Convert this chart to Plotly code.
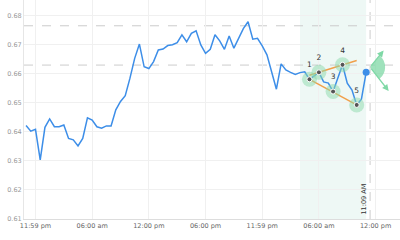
import numpy as np
import pandas as pd
import plotly.graph_objects as go

# ---------------- data ----------------
series_start = "2024-03-04 23:00"
price = [
    0.6421, 0.6402, 0.6408, 0.6303, 0.6415, 0.6444, 0.6417, 0.6417, 0.6423, 0.6377,
    0.6372, 0.6351, 0.6377, 0.6448, 0.6440, 0.6417, 0.6412, 0.6420, 0.6420, 0.6475,
    0.6504, 0.6524, 0.6584, 0.6652, 0.6701, 0.6623, 0.6617, 0.6641, 0.6681, 0.6684,
    0.6696, 0.6699, 0.6706, 0.6733, 0.6709, 0.6738, 0.6747, 0.6698, 0.6669, 0.6683,
    0.6733, 0.6712, 0.6683, 0.6729, 0.6687, 0.6718, 0.6754, 0.6778, 0.6718, 0.6721,
    0.6695, 0.6664, 0.6606, 0.6546, 0.6633, 0.6612, 0.6604, 0.6597, 0.6603, 0.6606,
    0.6580, 0.6591, 0.6604, 0.6571, 0.6567, 0.6538, 0.6585, 0.6630, 0.6567, 0.6543,
    0.6492, 0.6512, 0.6604,
]
times = pd.date_range(series_start, periods=len(price), freq="30min")

wave_labels = ["1", "2", "3", "4", "5"]
wave_times = ["2024-03-06 05:00", "2024-03-06 06:00", "2024-03-06 07:30",
              "2024-03-06 08:30", "2024-03-06 10:00"]
wave_values = [0.6580, 0.6604, 0.6538, 0.6630, 0.6492]

upper_times = ["2024-03-06 05:00", "2024-03-06 10:00"]
upper_values = [0.6594, 0.6645]
lower_times = ["2024-03-06 05:00", "2024-03-06 10:00"]
lower_values = [0.6580, 0.6492]

level_values = [0.6764, 0.6629]
window_times = ["2024-03-06 04:00", "2024-03-06 11:00"]
now_time = "2024-03-06 11:25"
now_label = "11:09 AM"
forecast_value = 0.6622

x_range = ["2024-03-04 22:47", "2024-03-06 14:35"]
x_tick_vals = ["2024-03-05 00:00", "2024-03-05 06:00", "2024-03-05 12:00",
               "2024-03-05 18:00", "2024-03-06 00:00", "2024-03-06 06:00",
               "2024-03-06 12:00"]
x_tick_text = ["11:59 pm", "06:00 am", "12:00 pm", "06:00 pm", "11:59 pm",
               "06:00 am", "12:00 pm"]
y_range = [0.61, 0.68526]
y_tick_vals = [0.61, 0.62, 0.63, 0.64, 0.65, 0.66, 0.67, 0.68]
y_tick_text = ["0.61", "0.62", "0.63", "0.64", "0.65", "0.66", "0.67", "0.68"]

# ---------------- style ----------------
FONT = "DejaVu Sans"
BLUE = "#3d8ee8"
ORANGE = "#f0a04b"
GREEN = "#7fd8a6"

fig = go.Figure()

# shaded window
fig.add_shape(type="rect", xref="x", yref="paper", x0=window_times[0], x1=window_times[1],
              y0=0, y1=1, fillcolor="#eef8f5", line=dict(width=0), layer="below")

# level lines
for lv in level_values:
    fig.add_shape(type="line", xref="paper", yref="y", x0=0, x1=1, y0=lv, y1=lv,
                  line=dict(color="#cccccc", width=1, dash="dash"), layer="below")
# now line
fig.add_shape(type="line", xref="x", yref="paper", x0=now_time, x1=now_time, y0=0, y1=1,
              line=dict(color="#cccccc", width=1, dash="dash"), layer="below")

# price line
fig.add_trace(go.Scatter(x=times, y=price, mode="lines",
                         line=dict(color=BLUE, width=1.5), hoverinfo="skip"))
# last point
fig.add_trace(go.Scatter(x=[times[-1]], y=[price[-1]], mode="markers",
                         marker=dict(color=BLUE, size=7), hoverinfo="skip"))

# pattern lines
fig.add_trace(go.Scatter(x=upper_times, y=upper_values, mode="lines",
                         line=dict(color=ORANGE, width=1.5), hoverinfo="skip"))
fig.add_trace(go.Scatter(x=lower_times, y=lower_values, mode="lines",
                         line=dict(color=ORANGE, width=1.5), hoverinfo="skip"))

# wave points
fig.add_trace(go.Scatter(x=wave_times, y=wave_values, mode="markers+text",
                         text=wave_labels, textposition="top center",
                         textfont=dict(family=FONT, size=7.5, color="#333333"),
                         marker=dict(color="rgba(140,218,172,0.5)", size=15),
                         hoverinfo="skip"))
fig.add_trace(go.Scatter(x=wave_times, y=wave_values, mode="markers",
                         marker=dict(color="#555555", size=5, line=dict(color="white", width=1)),
                         hoverinfo="skip"))

# forecast sector (pixel geometry anchored at forecast point)
ang = np.radians(np.linspace(50.6, -52.1, 24))
r = 15
pts = " ".join(f"L{r*np.cos(a):.2f},{r*np.sin(a):.2f}" for a in ang)
fig.add_shape(type="path", xref="x", yref="y", xsizemode="pixel", ysizemode="pixel",
              xanchor=now_time, yanchor=forecast_value,
              path=f"M0,0 {pts} Z", fillcolor="rgba(127,216,166,0.75)", line=dict(width=0))
for dx, dy in [(13.6, 16.7), (18.6, -24)]:
    fig.add_annotation(x=now_time, y=forecast_value, xref="x", yref="y", text="",
                       showarrow=True, arrowhead=2, arrowsize=1, arrowwidth=1.3,
                       arrowcolor=GREEN, xshift=dx, yshift=dy, ax=-dx, ay=dy,
                       standoff=0, startstandoff=0)

fig.add_annotation(x=now_time, y=y_range[0], xref="x", yref="y", text=now_label,
                   showarrow=False, textangle=-90, xanchor="center", yanchor="bottom",
                   xshift=-7, yshift=2, font=dict(family=FONT, size=6.5, color="#333333"))

fig.update_layout(
    width=400, height=240, margin=dict(l=24, r=0, t=0, b=21),
    paper_bgcolor="white", plot_bgcolor="white", showlegend=False,
    font=dict(family=FONT, size=6.5, color="#666666"),
)
fig.update_xaxes(range=x_range, type="date", tickvals=x_tick_vals, ticktext=x_tick_text,
                 showgrid=True, gridcolor="#f0f0f0", gridwidth=1, zeroline=False,
                 showline=True, linecolor="#dddddd", linewidth=1, ticks="",
                 tickfont=dict(family=FONT, size=6.5, color="#666666"))
fig.update_yaxes(range=y_range, tickvals=y_tick_vals, ticktext=y_tick_text,
                 showgrid=True, gridcolor="#f0f0f0", gridwidth=1, zeroline=False,
                 showline=True, linecolor="#e6e6e6", linewidth=1, ticks="",
                 tickfont=dict(family=FONT, size=6.5, color="#999999"))

fig.write_html("out.html")
